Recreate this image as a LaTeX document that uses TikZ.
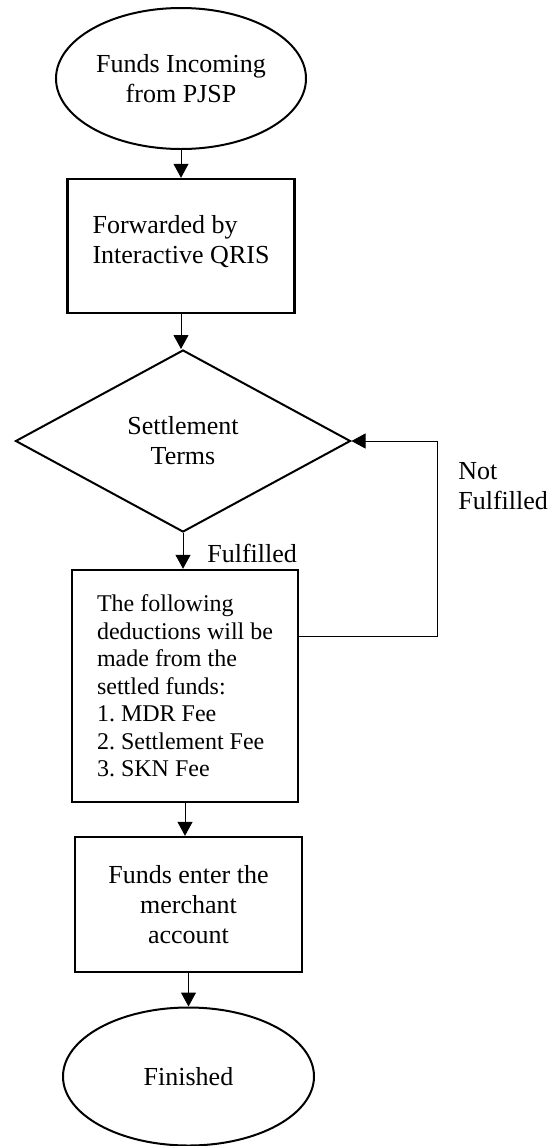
\documentclass[tikz,border=0pt]{standalone}
\usepackage{fontspec}
\setmainfont{Liberation Serif}
\usetikzlibrary{arrows.meta, positioning, shapes}
\frenchspacing

\begin{document}
\begin{tikzpicture}[x=0.5pt, y=-0.5pt,
  every node/.style={font=\fontsize{13pt}{15pt}\selectfont},
  flow/.style={-{Triangle[width=7.5pt,length=7pt]}, line width=0.5pt},
  back/.style={-{Triangle[width=7.5pt,length=7pt]}, line width=0.45pt},
  terminal/.style={draw, ellipse, line width=1pt, inner sep=0pt, align=center},
  procbox/.style={draw, rectangle, line width=1.2pt, inner sep=0pt},
  decision/.style={draw, diamond, line width=1pt, inner sep=0pt, align=center}]
\useasboundingbox (0,0) rectangle (551,1146);

% Start
\node[terminal, minimum width=125pt, minimum height=70.5pt] (start) at (181,78.5) {Funds Incoming\\from PJSP};

% Forwarding
\node[procbox, minimum width=113.5pt, minimum height=67pt, align=left, text depth=7pt] (fwd) at (181,246) {Forwarded by\\Interactive QRIS};

% Decision
\node[decision, minimum width=167.5pt, minimum height=91pt] (terms) at (183,441) {Settlement\\Terms};

% Deductions
\node[procbox, minimum width=113pt, minimum height=116pt, align=left, font=\fontsize{12pt}{13.75pt}\selectfont] (deduct) at (185,686) {The following\\deductions will be\\made from the\\settled funds:\\1. MDR Fee\\2. Settlement Fee\\3. SKN Fee};

% Merchant account
\node[procbox, minimum width=113.5pt, minimum height=67.5pt, align=center] (merchant) at (188.5,904.5) {Funds enter the\\merchant\\account};

% End
\node[terminal, minimum width=125.5pt, minimum height=69pt] (finish) at (188.5,1076.5) {Finished};

% Labels
\node[anchor=west, inner sep=0pt] (yes) at (207,553) {Fulfilled};
\node[anchor=west, inner sep=0pt, align=left] (no) at (458,486) {Not\\Fulfilled};
\coordinate (turn) at (437,441);

% Connectors
\draw[flow] (start.south) -- (start.south |- fwd.north);
\draw[flow] (fwd.south) -- (fwd.south |- terms.north);
\draw[flow] (terms.south) -- (terms.south |- deduct.north);
\draw[flow] (deduct.south) -- (deduct.south |- merchant.north);
\draw[flow] (merchant.south) -- (merchant.south |- finish.north);
\draw[back] ([yshift=25pt]deduct.east) -| (turn) -- (terms.east);
\end{tikzpicture}
\end{document}
